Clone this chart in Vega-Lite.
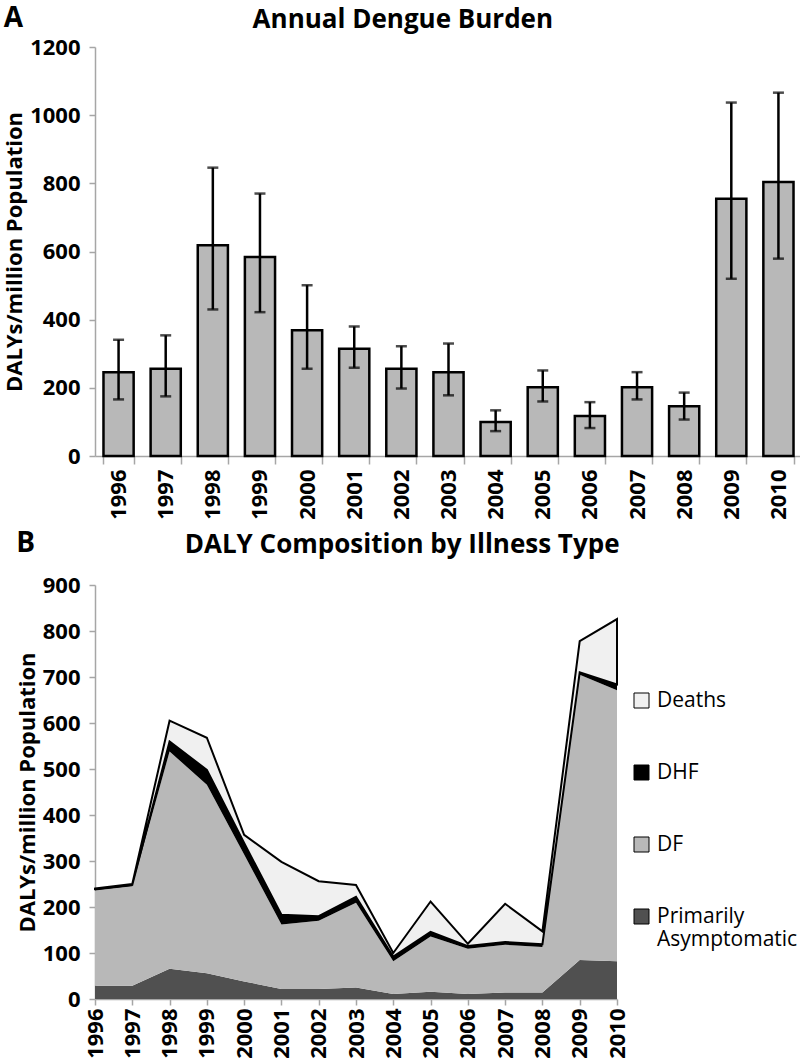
{
  "$schema": "https://vega.github.io/schema/vega-lite/v6.json",
  "padding": {"left": 3, "top": 5, "right": 0, "bottom": 0},
  "background": "white",
  "config": {
    "font": "Open Sans",
    "view": {"stroke": null},
    "axis": {
      "domainColor": "#a6a6a6", "tickColor": "#a6a6a6", "domainWidth": 1.5, "tickWidth": 1.5,
      "labelColor": "black", "labelFontSize": 22, "labelFontWeight": "bold", "labelFont": "Open Sans",
      "titleColor": "black", "titleFontSize": 22, "titleFontWeight": "bold", "titleFont": "Open Sans",
      "grid": false
    },
    "title": {"fontSize": 26, "fontWeight": "bold", "color": "black", "font": "Open Sans"}
  },
  "datasets": {
    "burden": [
      {"year": 1996, "dalys": 246, "lower": 166, "upper": 341},
      {"year": 1997, "dalys": 256, "lower": 175, "upper": 354},
      {"year": 1998, "dalys": 618, "lower": 430, "upper": 846},
      {"year": 1999, "dalys": 584, "lower": 422, "upper": 770},
      {"year": 2000, "dalys": 369, "lower": 256, "upper": 501},
      {"year": 2001, "dalys": 315, "lower": 259, "upper": 380},
      {"year": 2002, "dalys": 256, "lower": 198, "upper": 322},
      {"year": 2003, "dalys": 246, "lower": 178, "upper": 330},
      {"year": 2004, "dalys": 100, "lower": 73, "upper": 134},
      {"year": 2005, "dalys": 202, "lower": 160, "upper": 251},
      {"year": 2006, "dalys": 117, "lower": 82, "upper": 158},
      {"year": 2007, "dalys": 202, "lower": 166, "upper": 246},
      {"year": 2008, "dalys": 146, "lower": 107, "upper": 186},
      {"year": 2009, "dalys": 755, "lower": 520, "upper": 1037},
      {"year": 2010, "dalys": 804, "lower": 579, "upper": 1066}
    ],
    "composition": [
      {"year": 1996, "type": "Primarily Asymptomatic", "k": 1, "value": 29},
      {"year": 1996, "type": "DF", "k": 2, "value": 207},
      {"year": 1996, "type": "DHF", "k": 3, "value": 3},
      {"year": 1996, "type": "Deaths", "k": 4, "value": 1},
      {"year": 1997, "type": "Primarily Asymptomatic", "k": 1, "value": 29},
      {"year": 1997, "type": "DF", "k": 2, "value": 216},
      {"year": 1997, "type": "DHF", "k": 3, "value": 3},
      {"year": 1997, "type": "Deaths", "k": 4, "value": 2},
      {"year": 1998, "type": "Primarily Asymptomatic", "k": 1, "value": 66},
      {"year": 1998, "type": "DF", "k": 2, "value": 472},
      {"year": 1998, "type": "DHF", "k": 3, "value": 22},
      {"year": 1998, "type": "Deaths", "k": 4, "value": 45},
      {"year": 1999, "type": "Primarily Asymptomatic", "k": 1, "value": 56},
      {"year": 1999, "type": "DF", "k": 2, "value": 410},
      {"year": 1999, "type": "DHF", "k": 3, "value": 32},
      {"year": 1999, "type": "Deaths", "k": 4, "value": 70},
      {"year": 2000, "type": "Primarily Asymptomatic", "k": 1, "value": 38},
      {"year": 2000, "type": "DF", "k": 2, "value": 276},
      {"year": 2000, "type": "DHF", "k": 3, "value": 25},
      {"year": 2000, "type": "Deaths", "k": 4, "value": 18},
      {"year": 2001, "type": "Primarily Asymptomatic", "k": 1, "value": 22},
      {"year": 2001, "type": "DF", "k": 2, "value": 140},
      {"year": 2001, "type": "DHF", "k": 3, "value": 21},
      {"year": 2001, "type": "Deaths", "k": 4, "value": 115},
      {"year": 2002, "type": "Primarily Asymptomatic", "k": 1, "value": 22},
      {"year": 2002, "type": "DF", "k": 2, "value": 148},
      {"year": 2002, "type": "DHF", "k": 3, "value": 10},
      {"year": 2002, "type": "Deaths", "k": 4, "value": 76},
      {"year": 2003, "type": "Primarily Asymptomatic", "k": 1, "value": 25},
      {"year": 2003, "type": "DF", "k": 2, "value": 184},
      {"year": 2003, "type": "DHF", "k": 3, "value": 13},
      {"year": 2003, "type": "Deaths", "k": 4, "value": 26},
      {"year": 2004, "type": "Primarily Asymptomatic", "k": 1, "value": 11},
      {"year": 2004, "type": "DF", "k": 2, "value": 71},
      {"year": 2004, "type": "DHF", "k": 3, "value": 10},
      {"year": 2004, "type": "Deaths", "k": 4, "value": 8},
      {"year": 2005, "type": "Primarily Asymptomatic", "k": 1, "value": 16},
      {"year": 2005, "type": "DF", "k": 2, "value": 120},
      {"year": 2005, "type": "DHF", "k": 3, "value": 10},
      {"year": 2005, "type": "Deaths", "k": 4, "value": 66},
      {"year": 2006, "type": "Primarily Asymptomatic", "k": 1, "value": 11},
      {"year": 2006, "type": "DF", "k": 2, "value": 98},
      {"year": 2006, "type": "DHF", "k": 3, "value": 6},
      {"year": 2006, "type": "Deaths", "k": 4, "value": 5},
      {"year": 2007, "type": "Primarily Asymptomatic", "k": 1, "value": 14},
      {"year": 2007, "type": "DF", "k": 2, "value": 104},
      {"year": 2007, "type": "DHF", "k": 3, "value": 6},
      {"year": 2007, "type": "Deaths", "k": 4, "value": 83},
      {"year": 2008, "type": "Primarily Asymptomatic", "k": 1, "value": 14},
      {"year": 2008, "type": "DF", "k": 2, "value": 99},
      {"year": 2008, "type": "DHF", "k": 3, "value": 6},
      {"year": 2008, "type": "Deaths", "k": 4, "value": 28},
      {"year": 2009, "type": "Primarily Asymptomatic", "k": 1, "value": 85},
      {"year": 2009, "type": "DF", "k": 2, "value": 620},
      {"year": 2009, "type": "DHF", "k": 3, "value": 5},
      {"year": 2009, "type": "Deaths", "k": 4, "value": 68},
      {"year": 2010, "type": "Primarily Asymptomatic", "k": 1, "value": 82},
      {"year": 2010, "type": "DF", "k": 2, "value": 589},
      {"year": 2010, "type": "DHF", "k": 3, "value": 13},
      {"year": 2010, "type": "Deaths", "k": 4, "value": 142}
    ]
  },
  "spacing": 10,
  "resolve": {"legend": {"color": "independent"}},
  "vconcat": [
    {
      "title": {"text": "A", "anchor": "start", "frame": "bounds", "fontSize": 28, "offset": 0, "dy": 26},
      "vconcat": [
        {
          "title": {"text": "Annual Dengue Burden", "anchor": "middle", "frame": "bounds", "offset": 3},
          "width": 707,
          "height": 409,
          "data": {"name": "burden"},
          "encoding": {
            "x": {
              "field": "year", "type": "ordinal", "title": null,
              "scale": {"paddingInner": 0.36, "paddingOuter": 0.18},
              "axis": {"labelAngle": -90, "tickBand": "extent", "tickSize": 8, "labelPadding": 5}
            }
          },
          "layer": [
            {
              "mark": {"type": "bar", "fill": "#b8b8b8", "stroke": "black", "strokeWidth": 2.5},
              "encoding": {
                "y": {
                  "field": "dalys", "type": "quantitative", "title": "DALYs/million Population",
                  "scale": {"domain": [0, 1200]},
                  "axis": {"values": [0, 200, 400, 600, 800, 1000, 1200], "format": "d", "tickSize": 6, "labelPadding": 9, "titlePadding": 3}
                }
              }
            },
            {
              "mark": {
                "type": "errorbar",
                "ticks": {"size": 11, "thickness": 2.5, "color": "black"},
                "rule": {"strokeWidth": 2.5, "color": "black"}
              },
              "encoding": {
                "y": {"field": "lower", "type": "quantitative", "title": "DALYs/million Population"},
                "y2": {"field": "upper"}
              }
            }
          ]
        }
      ]
    },
    {
      "title": {"text": "B", "anchor": "start", "frame": "bounds", "fontSize": 28, "offset": 0, "dy": 26},
      "resolve": {"legend": {"color": "independent"}},
      "vconcat": [
        {
          "title": {"text": "DALY Composition by Illness Type", "anchor": "middle", "frame": "bounds", "offset": 16, "dx": -5},
          "width": 522,
          "height": 414,
          "data": {"name": "composition"},
          "mark": {"type": "area", "strokeWidth": 2},
          "encoding": {
            "x": {
              "field": "year", "type": "ordinal", "title": null,
              "scale": {"type": "point", "padding": 0},
              "axis": {"labelAngle": -90, "tickSize": 6, "labelPadding": 3}
            },
            "y": {
              "field": "value", "type": "quantitative", "stack": "zero", "title": "DALYs/million Population",
              "scale": {"domain": [0, 900]},
              "axis": {"values": [0, 100, 200, 300, 400, 500, 600, 700, 800, 900], "format": "d", "tickSize": 6, "labelPadding": 9, "titlePadding": 3}
            },
            "color": {
              "field": "type", "type": "nominal",
              "scale": {"domain": ["Deaths", "DHF", "DF", "Primarily Asymptomatic"], "range": ["#f0f0f0", "#000000", "#b8b8b8", "#505050"]},
              "legend": {
                "title": null, "orient": "none", "legendX": 536, "legendY": 105,
                "symbolType": "square", "symbolSize": 225, "symbolStrokeColor": "black", "symbolStrokeWidth": 1,
                "labelFontSize": 21, "labelFont": "Open Sans", "labelFontWeight": "normal", "labelColor": "black",
                "rowPadding": 50, "labelOffset": 5, "labelLimit": 300, "padding": 0,
                "labelExpr": "datum.label == 'Primarily Asymptomatic' ? ['Primarily', 'Asymptomatic'] : datum.label"
              }
            },
            "order": {"field": "k", "type": "quantitative"},
            "stroke": {"condition": {"test": "datum.type === 'Deaths'", "value": "black"}, "value": "transparent"}
          }
        }
      ]
    }
  ]
}
